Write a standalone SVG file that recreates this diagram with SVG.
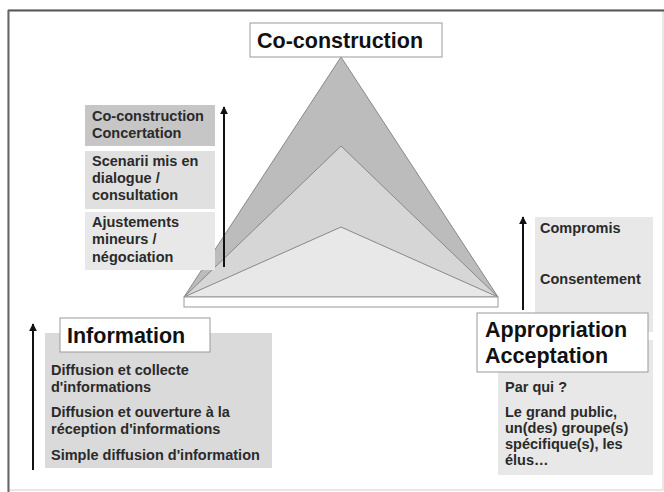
<svg xmlns="http://www.w3.org/2000/svg" width="664" height="492" viewBox="0 0 664 492">
<style>
.t{font-family:"Liberation Sans",Arial,sans-serif;font-weight:bold;font-size:14.5px;fill:#2a2a2a}
.h{font-family:"Liberation Sans",Arial,sans-serif;font-weight:bold;font-size:21.5px;fill:#111}
.lbl{fill:#fff;stroke:#999;stroke-width:1}
.arr{stroke:#111;stroke-width:2;fill:none;marker-end:url(#ah)}
</style>
<defs>
<marker id="ah" viewBox="0 0 10 10" refX="9" refY="5" markerWidth="4" markerHeight="4" orient="auto" markerUnits="strokeWidth">
<path d="M0,0 L10,5 L0,10 z" fill="#111"/>
</marker>
</defs>
<rect x="0" y="0" width="664" height="492" fill="#fff"/>
<rect x="8" y="10" width="655" height="480" fill="none" stroke="#d0d0d0" stroke-width="1"/>
<line x1="8" y1="10.5" x2="664" y2="10.5" stroke="#555" stroke-width="2"/>
<line x1="8.5" y1="10" x2="8.5" y2="492" stroke="#666" stroke-width="2"/>

<g id="pyramid">
<polygon points="341,57 498,297 184,297" fill="#bcbcbc" stroke="#888" stroke-width="1"/>
<polygon points="341,146 498,297 184,297" fill="#d6d6d6" stroke="#888" stroke-width="1"/>
<polygon points="341,227 498,297 184,297" fill="#e8e8e8" stroke="#888" stroke-width="1"/>
<rect x="184" y="297" width="314" height="10" fill="#fff" stroke="#999" stroke-width="1"/>
</g>

<g id="node-coconstruction">
<rect class="lbl" x="250" y="23" width="192" height="34"/>
<text class="h" x="257" y="48">Co-construction</text>
</g>

<g id="node-level3">
<rect x="85" y="105" width="130" height="41" fill="#c6c6c6"/>
<text class="t" x="92" y="121">Co-construction</text>
<text class="t" x="92" y="138">Concertation</text>
</g>
<g id="node-level2">
<rect x="85" y="151" width="130" height="58" fill="#e0e0e0"/>
<text class="t" x="92" y="166">Scenarii mis en</text>
<text class="t" x="92" y="183">dialogue /</text>
<text class="t" x="92" y="200">consultation</text>
</g>
<g id="node-level1">
<rect x="85" y="212" width="130" height="58" fill="#e8e8e8"/>
<text class="t" x="92" y="227">Ajustements</text>
<text class="t" x="92" y="244">mineurs /</text>
<text class="t" x="92" y="262">négociation</text>
</g>

<g id="node-information">
<rect x="45" y="333" width="227" height="135" fill="#dadada"/>
<rect class="lbl" x="60" y="318" width="150" height="34"/>
<text class="h" x="67" y="343">Information</text>
<text class="t" x="51" y="375">Diffusion et collecte</text>
<text class="t" x="51" y="392">d'informations</text>
<text class="t" x="51" y="417">Diffusion et ouverture à la</text>
<text class="t" x="51" y="434">réception d'informations</text>
<text class="t" x="51" y="460">Simple diffusion d'information</text>
</g>

<g id="node-consent">
<rect x="535" y="217" width="118" height="115" fill="#e8e8e8"/>
<text class="t" x="540" y="233">Compromis</text>
<text class="t" x="540" y="284">Consentement</text>
</g>

<g id="node-appropriation">
<rect x="498" y="340" width="155" height="135" fill="#e8e8e8"/>
<rect class="lbl" x="477" y="313" width="171" height="59"/>
<text class="h" x="485" y="337">Appropriation</text>
<text class="h" x="485" y="363">Acceptation</text>
<text class="t" x="505" y="392">Par qui ?</text>
<text class="t" x="505" y="417">Le grand public,</text>
<text class="t" x="505" y="433">un(des) groupe(s)</text>
<text class="t" x="505" y="449">spécifique(s), les</text>
<text class="t" x="505" y="465">élus…</text>
</g>

<g id="connectors">
<line class="arr" x1="224" y1="267" x2="224" y2="107"/>
<line class="arr" x1="33" y1="470" x2="33" y2="324"/>
<line class="arr" x1="523" y1="310" x2="523" y2="217"/>
</g>
</svg>
